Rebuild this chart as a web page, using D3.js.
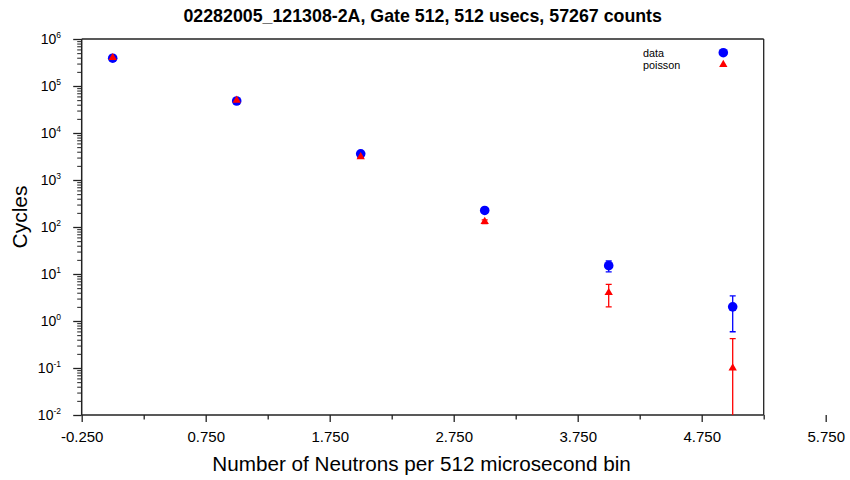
<!DOCTYPE html>
<html>
<head>
<meta charset="utf-8">
<script src="https://cdn.jsdelivr.net/npm/d3@7"></script>
<style>
  body { margin: 0; background: #fff; }
  svg { display: block; font-family: "Liberation Sans", Arial, sans-serif; }
</style>
</head>
<body>
<svg id="chart" width="850" height="480"></svg>
<script>
// ---- data ----
const neutrons = [0, 1, 2, 3, 4, 5];
const dataCycles = [390000, 48000, 3600, 225, 15, 2];
const dataErr = [624, 219, 60, 15, 3.9, 1.41];
const poissonCycles = [400000, 49500, 3100, 130, 4, 0.1];
const poissonErr = [632, 222, 56, 11.4, 2, 0.32];
const xTickValues = [-0.25, 0.75, 1.75, 2.75, 3.75, 4.75, 5.75];
const xMinorValues = [0.25, 1.25, 2.25, 3.25, 4.25, 5.25];
const yExponents = [-2, -1, 0, 1, 2, 3, 4, 5, 6];
const titleText = "02282005_121308-2A, Gate 512, 512 usecs, 57267 counts";
const xLabel = "Number of Neutrons per 512 microsecond bin";
const yLabel = "Cycles";
const legendNames = ["data", "poisson"];

(function () {
// ---- layout ----
const svg = d3.select("#chart");
const pLeft = 81.7, pRight = 825.7, pTop = 39, pBottom = 415;
const x = d3.scaleLinear().domain([-0.25, 5.75]).range([pLeft, pRight]);
const y = d3.scaleLog().domain([1e-2, 1e6]).range([pBottom, pTop]);
const frameRight = x(5.25);
const axisColor = "#222";

svg.append("defs").append("clipPath").attr("id", "plotclip")
  .append("rect").attr("x", pLeft).attr("y", pTop)
  .attr("width", frameRight - pLeft).attr("height", pBottom - pTop);

// title
svg.append("text").attr("x", (pLeft + frameRight) / 2).attr("y", 22)
  .attr("text-anchor", "middle").attr("font-weight", "bold")
  .attr("font-size", 17.8).attr("fill", "#000").text(titleText);

// X axis
const fmt = d3.format(".3f");
const xAxis = d3.axisBottom(x).tickValues(xTickValues).tickSize(7)
  .tickFormat(d => fmt(d).replace("\u2212", "-"));
const gx = svg.append("g").attr("transform", `translate(0,${pBottom})`).call(xAxis);
gx.select(".domain").remove();
gx.selectAll(".tick line").attr("stroke", axisColor).attr("stroke-width", 1.3);
gx.selectAll(".tick text").attr("font-size", 15).attr("fill", "#000")
  .attr("font-family", "Liberation Sans, Arial, sans-serif").attr("y", 16).attr("dy", "0.71em");

const xAxisMinor = d3.axisBottom(x).tickValues(xMinorValues).tickSize(4.5).tickFormat("");
const gxm = svg.append("g").attr("transform", `translate(0,${pBottom})`).call(xAxisMinor);
gxm.select(".domain").remove();
gxm.selectAll(".tick line").attr("stroke", axisColor).attr("stroke-width", 1.3);

// Y axis
const yMajor = yExponents.map(e => Math.pow(10, e));
const yMinor = [];
yExponents.slice(0, -1).forEach(e => {
  for (let m = 2; m <= 9; m++) yMinor.push(m * Math.pow(10, e));
});
const yAxis = d3.axisLeft(y).tickValues(yMajor).tickSize(8.5).tickFormat("");
const gy = svg.append("g").attr("transform", `translate(${pLeft},0)`).call(yAxis);
gy.select(".domain").remove();
gy.selectAll(".tick line").attr("stroke", axisColor).attr("stroke-width", 1.3);
const yAxisMinor = d3.axisLeft(y).tickValues(yMinor).tickSize(4.5).tickFormat("");
const gym = svg.append("g").attr("transform", `translate(${pLeft},0)`).call(yAxisMinor);
gym.select(".domain").remove();
gym.selectAll(".tick line").attr("stroke", axisColor).attr("stroke-width", 1);

// Y tick labels 10^n
const yl = svg.append("g");
yExponents.forEach(e => {
  const t = yl.append("text").attr("x", 61).attr("y", y(Math.pow(10, e)) + 5)
    .attr("text-anchor", "end").attr("fill", "#000");
  t.append("tspan").attr("font-size", 14).text("10");
  t.append("tspan").attr("font-size", 8.5).attr("dy", -6).text(String(e));
});

// axis lines and frame
svg.append("line").attr("x1", pLeft).attr("x2", frameRight).attr("y1", pBottom).attr("y2", pBottom)
  .attr("stroke", axisColor).attr("stroke-width", 1.5);
svg.append("line").attr("x1", pLeft).attr("x2", pLeft).attr("y1", pTop).attr("y2", pBottom)
  .attr("stroke", axisColor).attr("stroke-width", 1.5);
svg.append("line").attr("x1", pLeft).attr("x2", frameRight).attr("y1", pTop).attr("y2", pTop)
  .attr("stroke", axisColor).attr("stroke-width", 1.3);
svg.append("line").attr("x1", frameRight).attr("x2", frameRight).attr("y1", pTop).attr("y2", pBottom)
  .attr("stroke", axisColor).attr("stroke-width", 1.3);

// axis labels
svg.append("text").attr("x", 421.5).attr("y", 471).attr("text-anchor", "middle")
  .attr("font-size", 20.7).attr("fill", "#000").text(xLabel);
svg.append("text").attr("transform", "translate(27,217) rotate(-90)")
  .attr("text-anchor", "middle").attr("font-size", 21).attr("fill", "#000").text(yLabel);

// plot
const plot = svg.append("g").attr("clip-path", "url(#plotclip)");
const capW = 3;
function errorBars(vals, errs, color) {
  const g = plot.append("g").attr("stroke", color).attr("stroke-width", 1.3);
  neutrons.forEach((n, i) => {
    const v = vals[i], e = errs[i];
    const hi = v + e;
    const lo = v - e;
    const yHi = y(hi);
    const yLo = lo > 0 ? y(lo) : pBottom + 5;
    const cx = x(n);
    g.append("line").attr("x1", cx).attr("x2", cx).attr("y1", yHi).attr("y2", yLo);
    g.append("line").attr("x1", cx - capW).attr("x2", cx + capW).attr("y1", yHi).attr("y2", yHi);
    if (lo > 0) g.append("line").attr("x1", cx - capW).attr("x2", cx + capW).attr("y1", yLo).attr("y2", yLo);
  });
}
errorBars(dataCycles, dataErr, "#0000ff");
errorBars(poissonCycles, poissonErr, "#ff0000");

plot.append("g").selectAll("circle").data(neutrons).join("circle")
  .attr("cx", d => x(d)).attr("cy", (d, i) => y(dataCycles[i]))
  .attr("r", 4.8).attr("fill", "#0000ff");

const tri = d3.symbol().type(d3.symbolTriangle).size(30);
plot.append("g").selectAll("path").data(neutrons).join("path")
  .attr("d", tri)
  .attr("transform", (d, i) => `translate(${x(d)},${y(poissonCycles[i])})`)
  .attr("fill", "#ff0000");

// legend
const lg = svg.append("g");
lg.append("text").attr("x", 643).attr("y", 56.5).attr("font-size", 10.8).attr("fill", "#000").text(legendNames[0]);
lg.append("text").attr("x", 643).attr("y", 69).attr("font-size", 10.8).attr("fill", "#000").text(legendNames[1]);
lg.append("circle").attr("cx", 723.3).attr("cy", 52.7).attr("r", 4.8).attr("fill", "#0000ff");
lg.append("path").attr("d", tri).attr("transform", "translate(723.3,64.5)").attr("fill", "#ff0000");
})();
</script>
</body>
</html>
